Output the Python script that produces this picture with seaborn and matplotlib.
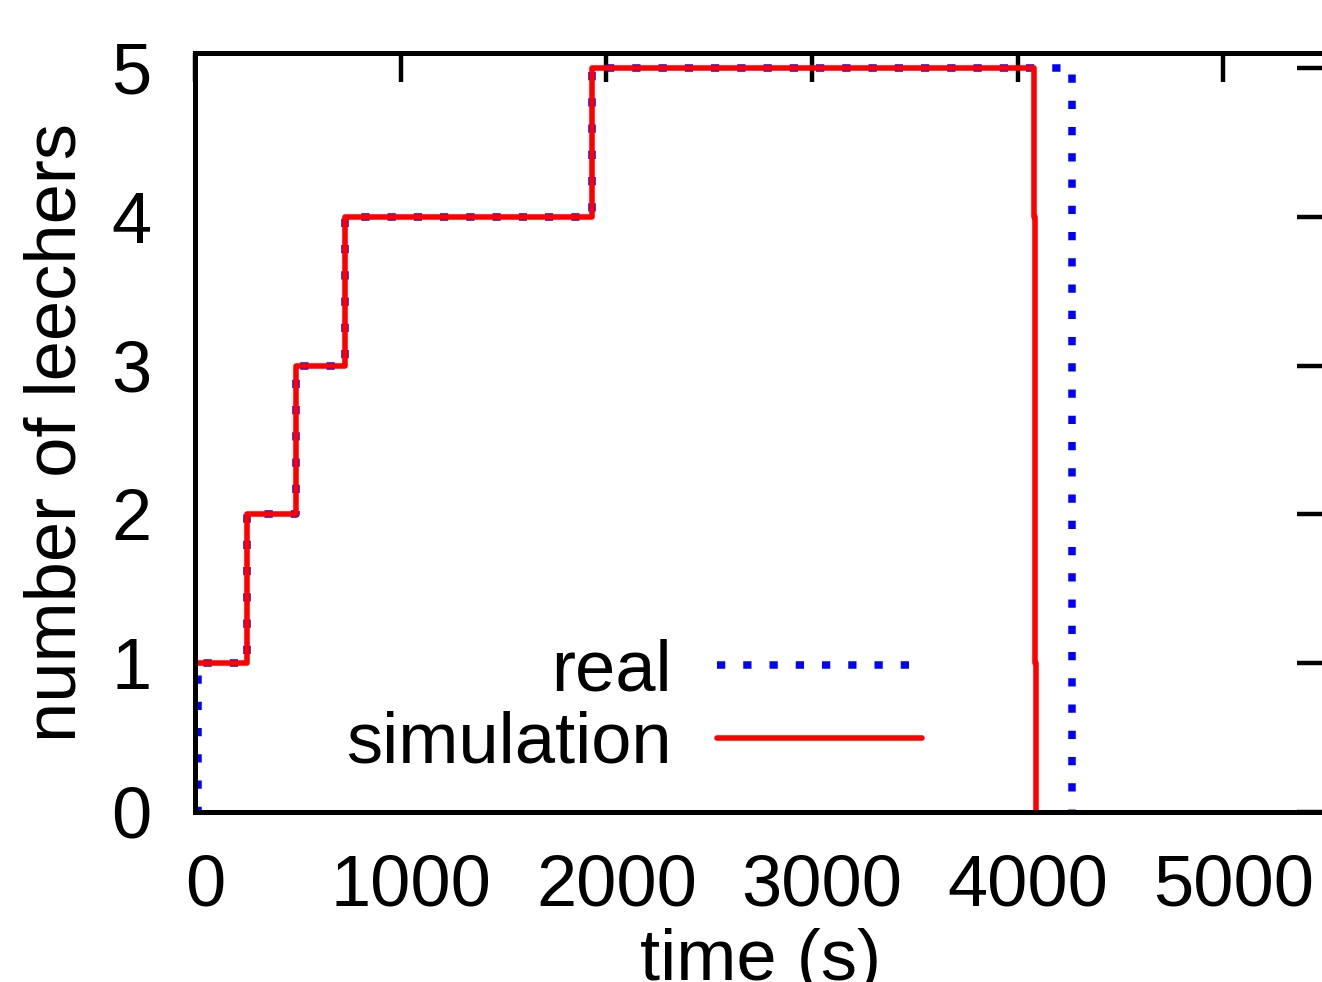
import matplotlib
matplotlib.use("Agg")
import matplotlib.pyplot as plt
import matplotlib.transforms as mtransforms
import seaborn as sns
import pandas as pd

# ---- data ----
real_time = [0, 15, 250, 490, 728, 1930, 4264]
real_leechers = [0, 1, 2, 3, 4, 5, 0]

sim_time = [0, 250, 490, 728, 1930, 4078, 4086, 4090]
sim_leechers = [1, 2, 3, 4, 5, 4, 1, 0]

x_ticks = [0, 1000, 2000, 3000, 4000, 5000]
y_ticks = [0, 1, 2, 3, 4, 5]

sns.set_theme(style="white")
plt.rcParams['font.family'] = ['Liberation Sans', 'DejaVu Sans']
plt.rcParams['text.color'] = 'black'

FS = 52
W, H = 1322, 982
fig = plt.figure(figsize=(W / 100, H / 100), dpi=100)
x0, x1 = 195.3, 1326.0
ytop, ybot = 53.0, 812.0
ax = fig.add_axes([x0 / W, (H - ybot) / H, (x1 - x0) / W, (ybot - ytop) / H])

df_real = pd.DataFrame({"t": real_time, "n": real_leechers})
df_sim = pd.DataFrame({"t": sim_time, "n": sim_leechers})

sns.lineplot(data=df_real, x="t", y="n", ax=ax, color="#0000ff", lw=5.4,
             drawstyle="steps-post", estimator=None, sort=False,
             dashes=False, label="real", zorder=2)
line_real = ax.lines[-1]
line_real.set_dashes((1.1, 2.4))
line_real.set_dash_capstyle("butt")
sns.lineplot(data=df_sim, x="t", y="n", ax=ax, color="#ff0000", lw=4.0,
             drawstyle="steps-post", estimator=None, sort=False,
             label="simulation", zorder=3)
line_sim = ax.lines[-1]

ax.set_xlim(0, 5500)
ax.set_ylim(0, 5.1)
ax.set_xticks(x_ticks)
ax.set_yticks(y_ticks)
ax.set_xticklabels([str(v) for v in x_ticks])
ax.set_yticklabels([str(v) for v in y_ticks])

for s in ax.spines.values():
    s.set_visible(True)
    s.set_color("black")
    s.set_linewidth(3.6)
    s.set_zorder(5)

ax.tick_params(axis="both", which="major", direction="in", length=21, width=3.2,
               color="black", labelsize=FS, labelcolor="black",
               top=True, right=True)
ax.tick_params(axis="x", pad=30)
ax.tick_params(axis="y", pad=31.5)

offset = mtransforms.ScaledTranslation(10 / 100, 0, fig.dpi_scale_trans)
for lab in ax.get_xticklabels():
    lab.set_transform(lab.get_transform() + offset)

ax.set_xlabel("time (s)", fontsize=FS, labelpad=5, color="black")
ax.set_ylabel("number of leechers", fontsize=FS, labelpad=15, color="black")

leg = ax.legend(handles=[line_real, line_sim], labels=["real", "simulation"],
                loc="center right", bbox_to_anchor=(922 / W, 1 - 708 / H),
                bbox_transform=fig.transFigure, frameon=False, fontsize=FS,
                markerfirst=False, handlelength=2.84, handletextpad=0.62,
                labelspacing=0.08, borderpad=0, borderaxespad=0)
for t in leg.get_texts():
    t.set_color("black")

fig.savefig("out.png", dpi=100)
